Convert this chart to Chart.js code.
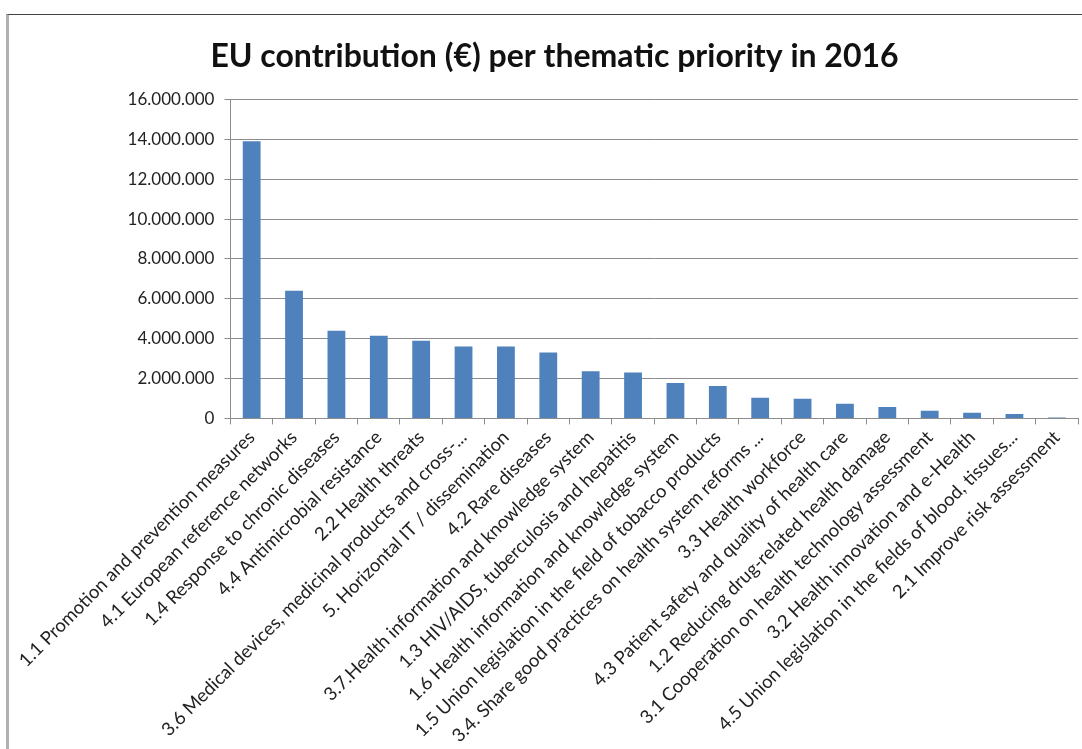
<!DOCTYPE html>
<html>
<head>
<meta charset="utf-8">
<script src="https://cdn.jsdelivr.net/npm/chart.js@4/dist/chart.umd.min.js"></script>
<style>
  html, body { margin: 0; padding: 0; background: #fff; }
  #frame {
    position: absolute; left: 6px; top: 14px; width: 1076px; height: 735px;
    border-left: 3px solid #b0b0b0; border-top: 1px solid #444; box-sizing: border-box;
  }
  #box { position: absolute; left: 8px; top: 0; width: 1065px; height: 734px; }
</style>
</head>
<body>
<div id="frame"><div id="box"><canvas id="myChart"></canvas></div></div>
<script>

const labels = [
  '1.1 Promotion and prevention measures',
  '4.1 European reference networks',
  '1.4 Response to chronic diseases',
  '4.4 Antimicrobial resistance',
  '2.2 Health threats',
  '3.6 Medical devices, medicinal products and cross-...',
  '5. Horizontal IT / dissemination',
  '4.2 Rare diseases',
  '3.7.Health information and knowledge system',
  '1.3 HIV/AIDS, tuberculosis and hepatitis',
  '1.6 Health information and knowledge system',
  '1.5 Union legislation in the field of tobacco products',
  '3.4. Share good practices on health system reforms ...',
  '3.3 Health workforce',
  '4.3 Patient safety and quality of health care',
  '1.2 Reducing drug-related health damage',
  '3.1 Cooperation on health technology assessment',
  '3.2 Health innovation and e-Health',
  '4.5 Union legislation in the fields of blood, tissues...',
  '2.1 Improve risk assessment',
];

const contribution = [13900000, 6400000, 4400000, 4150000, 3900000, 3600000, 3600000, 3300000,
  2370000, 2300000, 1780000, 1620000, 1030000, 980000, 730000, 570000, 380000, 280000, 220000, 50000];

const yTicks = [0, 2000000, 4000000, 6000000, 8000000, 10000000, 12000000, 14000000, 16000000];

function fmt(v) {
  return v.toString().replace(/\B(?=(\d{3})+(?!\d))/g, '.');
}

const data = {
  labels: labels,
  datasets: [{
    label: 'EU contribution',
    backgroundColor: '#4f81bd',
    borderColor: '#4f81bd',
    borderWidth: 0,
    barPercentage: 0.42,
    categoryPercentage: 1,
    data: contribution,
  }]
};

const config = {
  type: 'bar',
  data: data,
  options: {
    responsive: true,
    maintainAspectRatio: false,
    animation: false,
    layout: { padding: { left: 14, right: 4, top: 16, bottom: 0 } },
    plugins: {
      legend: { display: false },
      tooltip: { enabled: false },
      title: {
        display: true,
        text: 'EU contribution (€) per thematic priority in 2016',
        color: '#111',
        font: { family: 'Lato', size: 32, weight: 'bold' },
        padding: { top: 6, bottom: 24 }
      }
    },
    scales: {
      x: {
        offset: true,
        grid: { display: true, drawOnChartArea: false, offset: true, color: '#8c8c8c', tickLength: 6 },
        border: { display: true, color: '#8c8c8c', width: 1 },
        ticks: {
          autoSkip: false, maxRotation: 45, minRotation: 45,
          color: '#222', font: { family: 'Lato', size: 18.5 }, padding: 2
        }
      },
      y: {
        min: 0, max: 16000000,
        afterBuildTicks: function (axis) { axis.ticks = yTicks.map(function (v) { return { value: v }; }); },
        grid: { color: '#8c8c8c', tickLength: 6 },
        border: { display: true, color: '#8c8c8c', width: 1 },
        ticks: {
          color: '#222', font: { family: 'Lato', size: 17 }, padding: 10,
          callback: function (v) { return fmt(v); }
        }
      }
    }
  }
};

const myChart = new Chart(document.getElementById('myChart'), config);
</script>
</body>
</html>
